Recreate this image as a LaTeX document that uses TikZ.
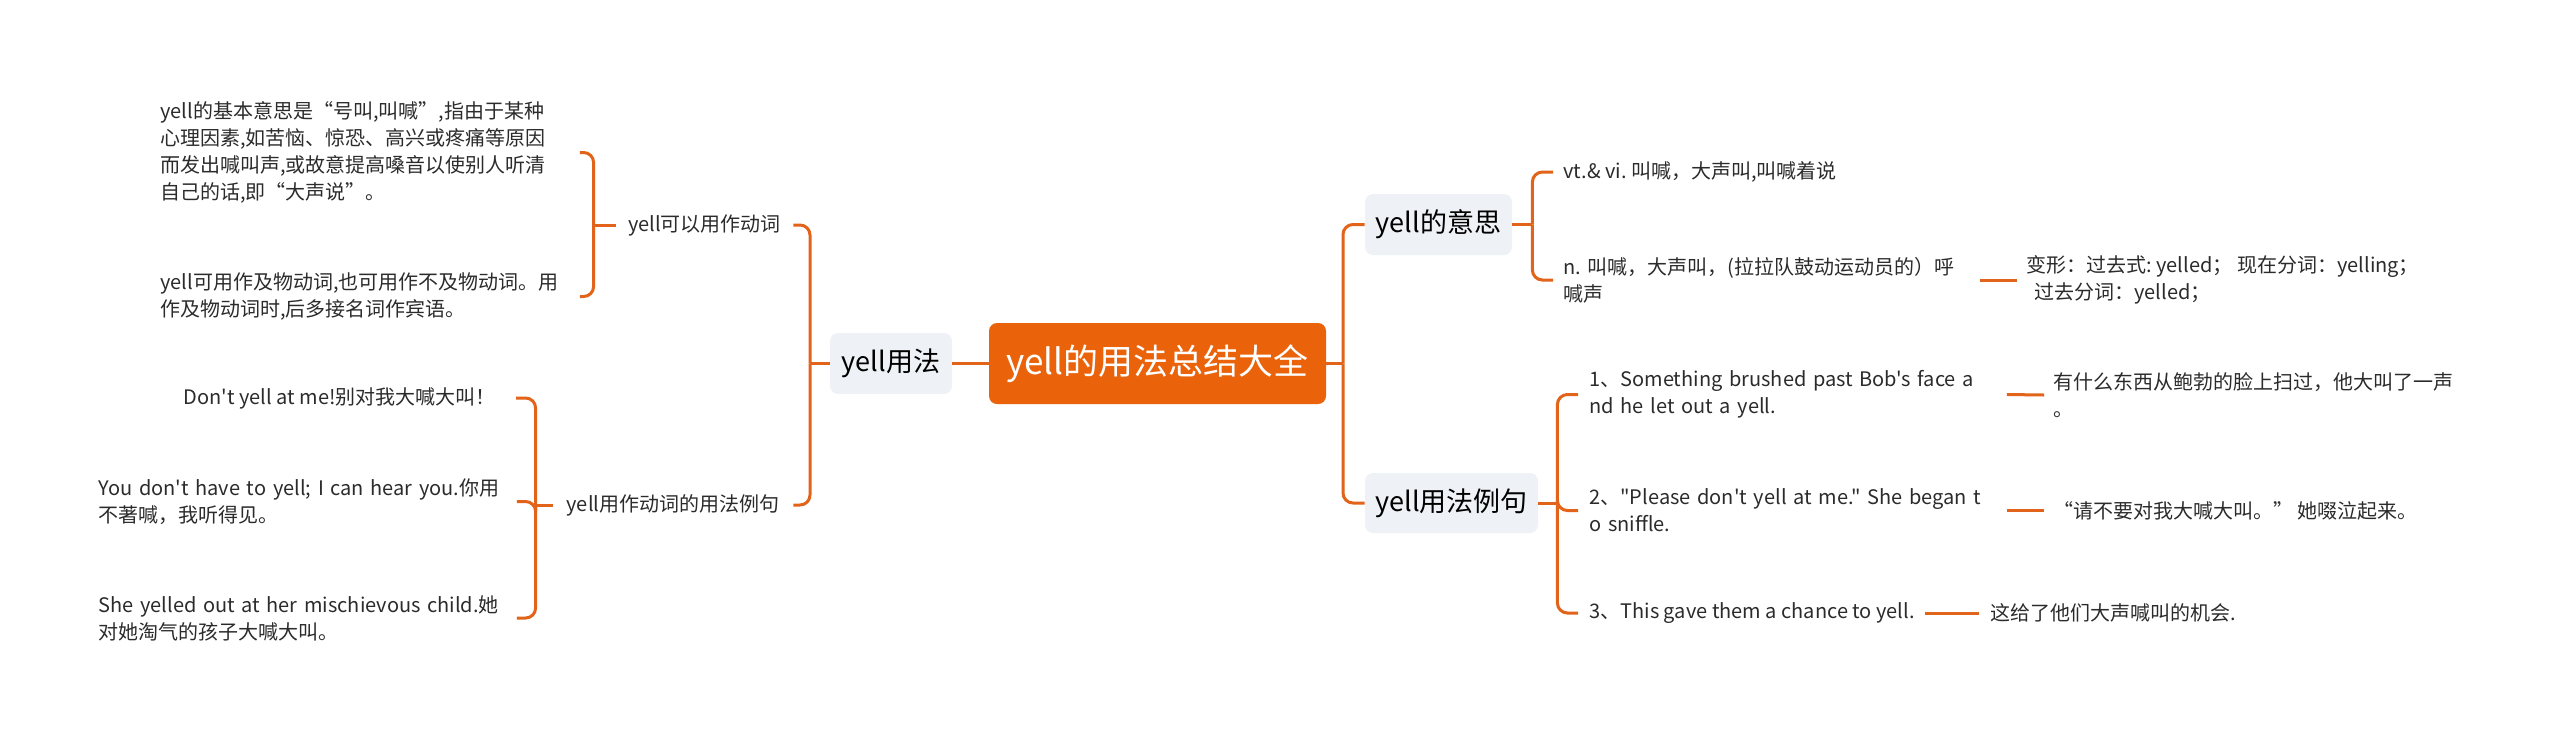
\documentclass[tikz,border=0pt]{standalone}
\usepackage{fontspec}
\newfontfamily\cjk{Noto Sans CJK SC}
\definecolor{lineor}{HTML}{E2631A}
\definecolor{rootor}{HTML}{EA6209}
\definecolor{lvlbg}{HTML}{EEF1F5}
\definecolor{txt}{HTML}{2B2B2B}
\frenchspacing
\begin{document}
\begin{tikzpicture}[x=0.5pt,y=-0.5pt,
  conn/.style={draw=lineor, line width=1.5pt, rounded corners=5pt},
  leaf/.style={inner sep=0pt, align=left, text=txt, font=\cjk\frenchspacing\fontsize{10pt}{13.5pt}\selectfont},
  lab/.style={inner sep=0pt, text=txt, font=\cjk\fontsize{10pt}{13.5pt}\selectfont},
  lvl/.style={fill=lvlbg, rounded corners=4pt, inner sep=0pt, text=black, font=\cjk\fontsize{13.5pt}{16pt}\selectfont},
  rootn/.style={fill=rootor, rounded corners=4pt, inner sep=0pt, text=white, font=\cjk\fontsize{17.5pt}{20pt}\selectfont}]
\useasboundingbox (0,0) rectangle (2560,741);

% central and level-1 nodes
\node[rootn, minimum width=168.5pt, minimum height=40.5pt] (root) at (1157.5,363.5) {yell的用法总结大全};
\node[lvl, minimum width=61pt, minimum height=30.5pt] (yongfa) at (891,363.5) {yell用法};
\node[lvl, minimum width=73.5pt, minimum height=30.5pt] (yisi) at (1438.5,224.5) {yell的意思};
\node[lvl, minimum width=86.5pt, minimum height=30pt] (lijv) at (1451.5,503) {yell用法例句};

% left level-2 labels
\node[lab, minimum width=88.5pt] (labA) at (704.5,225) {yell可以用作动词};
\node[lab, minimum width=120pt] (labB) at (673,505) {yell用作动词的用法例句};

% left leaves
\node[leaf, anchor=west, text width=209.5pt] (leafA1) at (160,152.5) {yell的基本意思是“号叫,叫喊”,指由于某种\\心理因素,如苦恼、惊恐、高兴或疼痛等原因\\而发出喊叫声,或故意提高嗓音以使别人听清\\自己的话,即“大声说”。};
\node[leaf, anchor=west, text width=209.5pt] (leafA2) at (160,296.5) {yell可用作及物动词,也可用作不及物动词。用\\作及物动词时,后多接名词作宾语。};
\node[leaf, anchor=east] (leafB1) at (496,398) {Don't yell at me!别对我大喊大叫！};
\node[leaf, anchor=west, text width=209pt] (leafB2) at (98,501.5) {You don't have to yell; I can hear you.你用\\不著喊，我听得见。};
\node[leaf, anchor=west, text width=209pt] (leafB3) at (98,618) {She yelled out at her mischievous child.她\\对她淘气的孩子大喊大叫。};

% right leaves
\node[leaf, anchor=west] (leafY1) at (1563,172) {vt.\& vi. 叫喊，大声叫,叫喊着说};
\node[leaf, anchor=west, text width=208pt] (leafY2) at (1563,280) {n. 叫喊，大声叫，(拉拉队鼓动运动员的）呼\\喊声};
\node[leaf, anchor=west] (bianx) at (2026,280) {变形：过去式: yelled；\ 现在分词：yelling；\\\hspace*{4pt}过去分词：yelled；};
\node[leaf, anchor=west, text width=208.5pt] (ex1) at (1589,394.5) {1、Something brushed past Bob's face a\\nd he let out a yell.};
\node[leaf, anchor=west] (tr1) at (2053,395) {有什么东西从鲍勃的脸上扫过，他大叫了一声\\。};
\node[leaf, anchor=west, text width=208.5pt] (ex2) at (1589,510.5) {2、"Please don't yell at me." She began t\\o sniffle.};
\node[leaf, anchor=west] (tr2) at (2053,510.5) {“请不要对我大喊大叫。” 她啜泣起来。};
\node[leaf, anchor=west] (ex3) at (1589,613) {3、This gave them a chance to yell.};
\node[leaf, anchor=west] (tr3) at (1990,613) {这给了他们大声喊叫的机会.};

% junctions
\coordinate (jL) at (810,363.5);
\coordinate (jR) at (1343,363.5);
\coordinate (jA) at ([xshift=-11pt]labA.west);
\coordinate (jB) at ([xshift=-8.5pt]labB.west);
\coordinate (jY) at ([xshift=10pt]yisi.east);
\coordinate (jE) at ([xshift=9.5pt]lijv.east);

% left connectors
\draw[conn] (root.west) -- (yongfa.east);
\draw[conn] (yongfa.west) -- (jL);
\draw[conn] (jL) |- (labA.east);
\draw[conn] (jL) |- (labB.east);
\draw[conn] (labA.west) -- (jA);
\draw[conn] (jA) |- (leafA1.east);
\draw[conn] (jA) |- (leafA2.east);
\draw[conn] (labB.west) -- (jB);
\draw[conn] (jB) |- ([xshift=10pt]leafB1.east);
\draw[conn] (jB) |- (leafB2.east);
\draw[conn] (jB) |- (leafB3.east);

% right connectors
\draw[conn] (root.east) -- (jR);
\draw[conn] (jR) |- (yisi.west);
\draw[conn] (jR) |- (lijv.west);
\draw[conn] (yisi.east) -- (jY);
\draw[conn] (jY) |- ([xshift=-5pt]leafY1.west);
\draw[conn] (jY) |- ([xshift=-5pt]leafY2.west);
\draw[conn] (leafY2.east) -- ([xshift=-4.5pt]bianx.west);
\draw[conn] (lijv.east) -- (jE);
\draw[conn] (jE) |- ([xshift=-5.5pt]ex1.west);
\draw[conn] (jE) |- ([xshift=-5.5pt]ex2.west);
\draw[conn] (jE) |- ([xshift=-5.5pt]ex3.west);
\draw[conn] (ex1.east) -- ([xshift=-4.5pt]tr1.west);
\draw[conn] (ex2.east) -- ([xshift=-4.5pt]tr2.west);
\draw[conn] ([xshift=5pt]ex3.east) -- ([xshift=-5.5pt]tr3.west);
\end{tikzpicture}
\end{document}
